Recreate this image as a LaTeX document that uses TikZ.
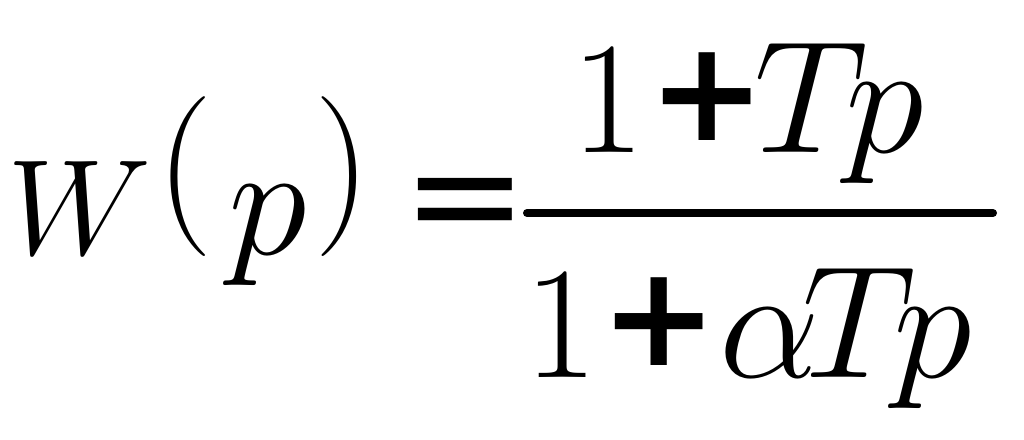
\documentclass[tikz,border=0pt]{standalone}
\usepackage{fix-cm}
\usepackage{fontspec}
\newfontfamily\signfont{DejaVu Sans}
\tikzset{glyph/.style={inner sep=0pt, outer sep=0pt, anchor=base, font=\fontsize{160}{160}\selectfont},
  sign/.style={inner sep=0pt, outer sep=0pt, anchor=base, font=\fontsize{140}{140}\selectfont\signfont\bfseries}}
\begin{document}
\begin{tikzpicture}[x=1pt,y=1pt]
\useasboundingbox (0,0) rectangle (1024,439);
% left hand side
\node[glyph,anchor=base west,font=\fontsize{136}{136}\selectfont] (W) at (8,184) {$W$};
\node[glyph,anchor=center] (lp) at (185,262) {$($};
\node[glyph] (p) at (268,184) {$p$};
\node[glyph,anchor=center] (rp) at (343,262) {$)$};
\node[sign,font=\fontsize{150}{150}\selectfont\signfont] (eq) at (465,192) {=};

% fraction bar
\coordinate (barL) at (527,226);
\coordinate (barR) at (993,226);
\draw[line width=8pt,line cap=round] (barL) -- (barR);

% numerator
\node[glyph] (n1) at (608,286) {$1$};
\node[sign] (nplus) at (707,298) {+};
\node[glyph] (nT) at (811,286) {$T$};
\node[glyph] (np) at (885,286) {$p$};

% denominator
\node[glyph] (d1) at (561,62) {$1$};
\node[sign] (dplus) at (659,74) {+};
\node[glyph] (dal) at (770,62) {$\alpha$};
\node[glyph] (dT) at (859,62) {$T$};
\node[glyph] (dp) at (933,62) {$p$};
\end{tikzpicture}
\end{document}
